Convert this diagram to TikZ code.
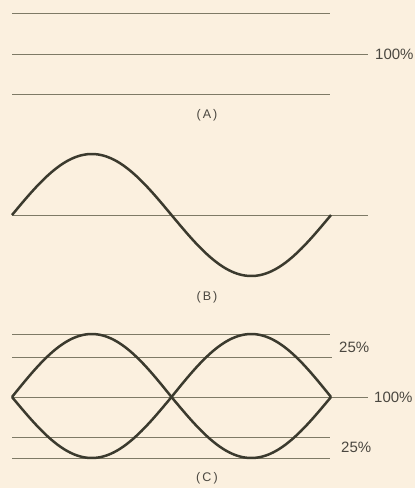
\documentclass[tikz,border=0pt]{standalone}
\usepackage{fontspec}
\setmainfont{Liberation Sans}
\definecolor{bg}{HTML}{FBF0DF}
\definecolor{thin}{HTML}{7E7A66}
\definecolor{curve}{HTML}{3B3A2E}
\definecolor{txt}{HTML}{4A4740}
\tikzset{
  guide/.style={draw=thin, line width=0.9pt},
  wave/.style={draw=curve, line width=2.5pt, line join=round},
  pct/.style={text=txt, font=\fontsize{15}{15}\selectfont, inner sep=0pt, anchor=west},
  captxt/.style={text=txt, font=\fontsize{12.5}{12.5}\selectfont, inner sep=0pt}
}
\begin{document}
\begin{tikzpicture}[x=1pt,y=-1pt]
\fill[bg] (0,0) rectangle (415,488);
\useasboundingbox (0,0) rectangle (415,488);
% Panel A
\coordinate (a1l) at (12,13); \coordinate (a1r) at (330,13);
\coordinate (a2l) at (12,54); \coordinate (a2r) at (368,54);
\coordinate (a3l) at (12,94); \coordinate (a3r) at (330,94);
\draw[guide] (a1l) -- (a1r);
\draw[guide] (a2l) -- (a2r);
\draw[guide] (a3l) -- (a3r);
\node[pct] (pa) at (375,54) {100\%};
\node[captxt] (la) at (207,115) {(\,A\,)};
% Panel B
\coordinate (bl) at (12,215); \coordinate (br) at (368,215);
\draw[guide] (bl) -- (br);
\draw[wave] plot[domain=12:331,samples=120,smooth] (\x,{215-61*sin(1.12853*(\x-12))});
\node[captxt] (lb) at (207,297) {(\,B\,)};
% Panel C
\coordinate (c1l) at (12,334); \coordinate (c1r) at (330,334);
\coordinate (c2l) at (12,357); \coordinate (c2r) at (332,357);
\coordinate (c3l) at (12,397); \coordinate (c3r) at (368,397);
\coordinate (c4l) at (12,437); \coordinate (c4r) at (330,437);
\coordinate (c5l) at (12,458); \coordinate (c5r) at (330,458);
\draw[guide] (c1l) -- (c1r);
\draw[guide] (c2l) -- (c2r);
\draw[guide] (c3l) -- (c3r);
\draw[guide] (c4l) -- (c4r);
\draw[guide] (c5l) -- (c5r);
\draw[wave] plot[domain=12:171.5,samples=70,smooth] (\x,{397-63*sin(1.12853*(\x-12))});
\draw[wave] plot[domain=171.5:331,samples=70,smooth] (\x,{397-63*sin(1.12853*(\x-171.5))});
\draw[wave] plot[domain=12:171.5,samples=70,smooth] (\x,{397+61*sin(1.12853*(\x-12))});
\draw[wave] plot[domain=171.5:331,samples=70,smooth] (\x,{397+61*sin(1.12853*(\x-171.5))});
\node[pct] (pc1) at (339,347) {25\%};
\node[pct] (pc2) at (374,397) {100\%};
\node[pct] (pc3) at (341,447) {25\%};
\node[captxt] (lc) at (207,478) {(\,C\,)};
\end{tikzpicture}
\end{document}
